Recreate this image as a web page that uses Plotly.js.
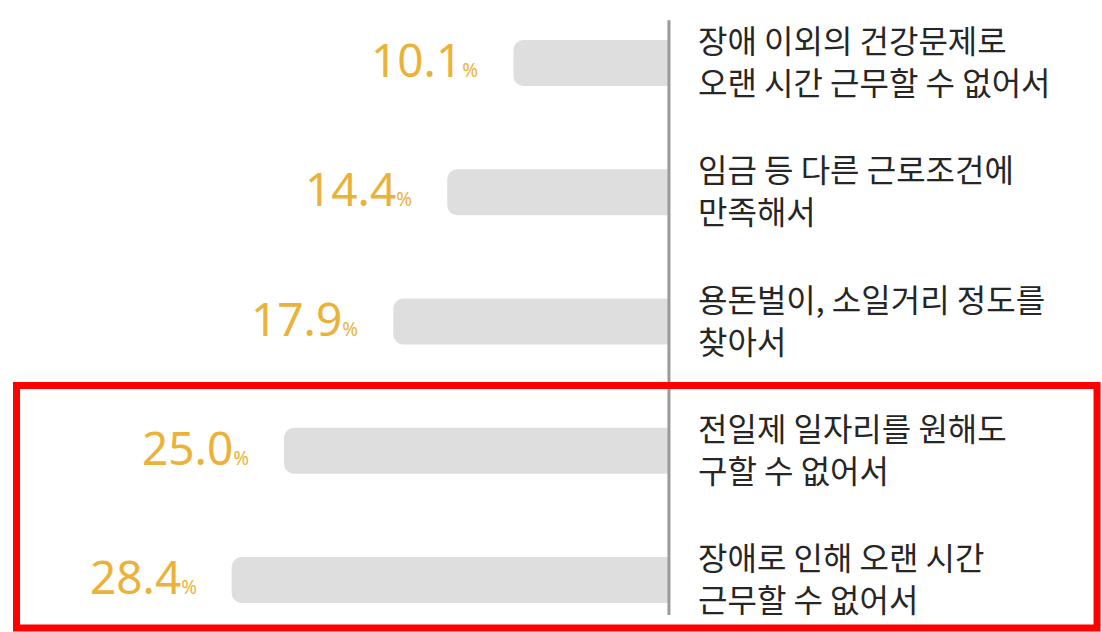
<!DOCTYPE html>
<html>
<head>
<meta charset="utf-8">
<script src="https://cdn.plot.ly/plotly-3.0.1.min.js"></script>
<style>html,body{margin:0;padding:0;background:#fff;}#chart{width:1102px;height:632px;}</style>
</head>
<body>
<div id="chart"></div>
<script>
const categories = [
  ["장애 이외의 건강문제로", "오랜 시간 근무할 수 없어서"],
  ["임금 등 다른 근로조건에", "만족해서"],
  ["용돈벌이, 소일거리 정도를", "찾아서"],
  ["전일제 일자리를 원해도", "구할 수 없어서"],
  ["장애로 인해 오랜 시간", "근무할 수 없어서"]
];
const values = [10.1, 14.4, 17.9, 25.0, 28.4];
const valueLabels = ["10.1", "14.4", "17.9", "25.0", "28.4"];
const unit = "%";

const idx = categories.map((c, i) => i);

const trace = {
  type: "bar",
  orientation: "h",
  x: values,
  y: idx,
  width: 0.356,
  marker: { color: "#dedede", cornerradius: 10, line: { width: 0 } },
  hoverinfo: "skip"
};

const annotations = [];
categories.forEach((lines, i) => {
  lines.forEach((ln, j) => {
    annotations.push({
      xref: "x", yref: "y", x: 0, y: i,
      xanchor: "left", yanchor: "middle", xshift: 27,
      yshift: (j === 0 ? 1 : -1) * 21 + 3,
      align: "left", showarrow: false,
      text: ln,
      font: { family: "Noto Sans CJK KR", size: 32, color: "#262626" }
    });
  });
  annotations.push({
    xref: "x", yref: "y", x: values[i], y: i,
    xanchor: "right", yanchor: "middle", xshift: -33, yshift: 4,
    showarrow: false,
    text: valueLabels[i] + "<span style='font-size:19px'>" + unit + "</span>",
    font: { family: "Noto Sans", size: 46, color: "#EBB23A" }
  });
});

const layout = {
  width: 1102, height: 632,
  margin: { l: 0, r: 0, t: 0, b: 0, pad: 0 },
  paper_bgcolor: "#ffffff", plot_bgcolor: "#ffffff",
  showlegend: false,
  xaxis: { range: [43.44, -28.12], showgrid: false, zeroline: false, showticklabels: false, ticks: "", showline: false, fixedrange: true },
  yaxis: { type: "linear", range: [4.4023, -0.4874], showgrid: false, zeroline: false, showticklabels: false, ticks: "", showline: false, fixedrange: true },
  shapes: [
    { type: "line", xref: "x", yref: "paper", x0: 0, x1: 0, y0: 0.027, y1: 0.968,
      line: { color: "#9a9a9a", width: 3 } },
    { type: "rect", xref: "paper", yref: "paper", x0: 0.015, x1: 0.9955, y0: 0.0063, y1: 0.39,
      line: { color: "#ff0000", width: 7 }, fillcolor: "rgba(0,0,0,0)" }
  ],
  annotations: annotations
};

Plotly.newPlot("chart", [trace], layout, { displayModeBar: false, staticPlot: true });
</script>
</body>
</html>
